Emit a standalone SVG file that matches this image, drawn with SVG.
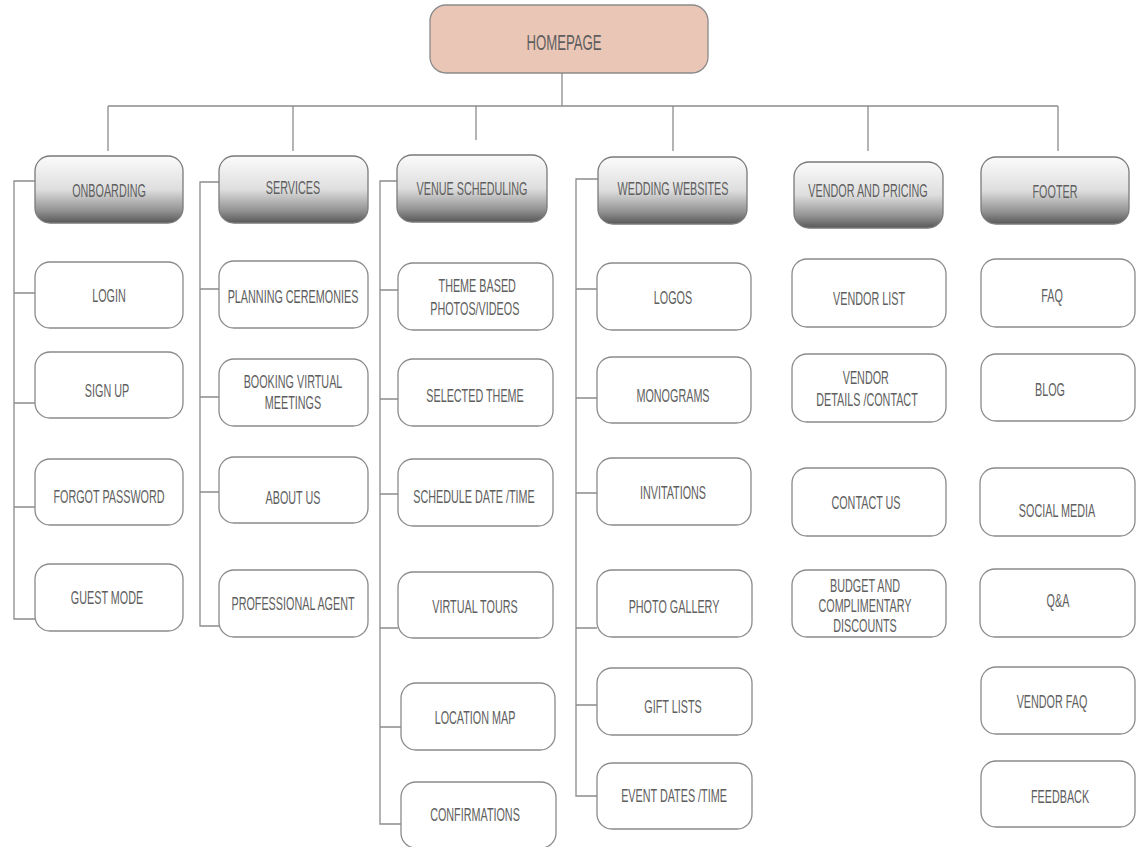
<svg xmlns="http://www.w3.org/2000/svg" width="1139" height="847" viewBox="0 0 1139 847">
<defs>
<linearGradient id="hdr" x1="0" y1="0" x2="0" y2="1">
<stop offset="0" stop-color="#fbfbfb"/>
<stop offset="0.5" stop-color="#dedede"/>
<stop offset="0.82" stop-color="#919191"/>
<stop offset="1" stop-color="#585858"/>
</linearGradient>
<style>
.t{font-family:"Liberation Sans",Arial,sans-serif;font-size:18px;fill:#5e5e5e;text-anchor:middle}
.home{font-size:22px}
.box{fill:#ffffff;stroke:#8a8a8a;stroke-width:1.3}
.hb{fill:url(#hdr);stroke:#7a7a7a;stroke-width:1.3}
.hp{fill:#eac6b7;stroke:#8a8a8a;stroke-width:1.3}
.c{fill:none;stroke:#8c8c8c;stroke-width:1.3}
</style>
</defs>
<rect width="1139" height="847" fill="#ffffff"/>

<g id="connectors">
<path class="c" d="M562 73V106M108 106H1058M108 106V151M293 106V151M476 106V140M673 106V151M868 106V151M1058 106V151"/>
<path class="c" d="M35 181H14V619H35M14 293H35M14 403H35M14 507H35"/>
<path class="c" d="M219 182H200V626H219M200 289H219M200 397H219M200 492H219"/>
<path class="c" d="M397 181H380V824H401M380 290H398M380 399H398M380 494H398M380 628H398M380 727H401"/>
<path class="c" d="M598 179H576V796H597M576 289H597M576 398H597M576 493H597M576 628H597M576 705H597"/>
</g>

<g id="homepage"><rect class="hp" x="430" y="5" width="278" height="68" rx="16"/><text class="t home" transform="translate(564,50) scale(0.6,1)">HOMEPAGE</text></g>

<g id="onboarding"><rect class="hb" x="35" y="156" width="148" height="67" rx="15"/><text class="t" transform="translate(109,197) scale(0.6,1)">ONBOARDING</text></g>
<g id="services"><rect class="hb" x="219" y="156" width="149" height="67" rx="15"/><text class="t" transform="translate(293,194) scale(0.6,1)">SERVICES</text></g>
<g id="venue-scheduling"><rect class="hb" x="397" y="155" width="150" height="67" rx="15"/><text class="t" transform="translate(472,195) scale(0.6,1)">VENUE SCHEDULING</text></g>
<g id="wedding-websites"><rect class="hb" x="598" y="157" width="149" height="67" rx="15"/><text class="t" transform="translate(673,195) scale(0.6,1)">WEDDING WEBSITES</text></g>
<g id="vendor-and-pricing"><rect class="hb" x="794" y="162" width="149" height="66" rx="15"/><text class="t" transform="translate(868,197) scale(0.6,1)">VENDOR AND PRICING</text></g>
<g id="footer"><rect class="hb" x="981" y="157" width="148" height="67" rx="15"/><text class="t" transform="translate(1055,198) scale(0.6,1)">FOOTER</text></g>

<g id="login"><rect class="box" x="35" y="262" width="148" height="66" rx="15"/><text class="t" transform="translate(109,302) scale(0.6,1)">LOGIN</text></g>
<g id="sign-up"><rect class="box" x="35" y="352" width="148" height="66" rx="15"/><text class="t" transform="translate(107,397) scale(0.6,1)">SIGN UP</text></g>
<g id="forgot-password"><rect class="box" x="35" y="459" width="148" height="66" rx="15"/><text class="t" transform="translate(109,503) scale(0.6,1)">FORGOT PASSWORD</text></g>
<g id="guest-mode"><rect class="box" x="35" y="564" width="148" height="67" rx="15"/><text class="t" transform="translate(107,604) scale(0.6,1)">GUEST MODE</text></g>

<g id="planning-ceremonies"><rect class="box" x="219" y="261" width="149" height="67" rx="15"/><text class="t" transform="translate(293,303) scale(0.6,1)">PLANNING CEREMONIES</text></g>
<g id="booking-virtual-meetings"><rect class="box" x="219" y="359" width="149" height="67" rx="15"/><text class="t" transform="translate(293,388) scale(0.6,1)"><tspan x="0" y="0">BOOKING VIRTUAL</tspan><tspan x="0" y="21">MEETINGS</tspan></text></g>
<g id="about-us"><rect class="box" x="219" y="457" width="149" height="66" rx="15"/><text class="t" transform="translate(293,504) scale(0.6,1)">ABOUT US</text></g>
<g id="professional-agent"><rect class="box" x="219" y="570" width="149" height="67" rx="15"/><text class="t" transform="translate(293,610) scale(0.6,1)">PROFESSIONAL AGENT</text></g>

<g id="theme-based"><rect class="box" x="398" y="263" width="155" height="67" rx="15"/><text class="t" transform="translate(476,292) scale(0.6,1)"><tspan x="2" y="0">THEME BASED</tspan><tspan x="-2" y="23">PHOTOS/VIDEOS</tspan></text></g>
<g id="selected-theme"><rect class="box" x="398" y="359" width="155" height="67" rx="15"/><text class="t" transform="translate(475,402) scale(0.6,1)">SELECTED THEME</text></g>
<g id="schedule-date-time"><rect class="box" x="398" y="459" width="155" height="67" rx="15"/><text class="t" transform="translate(474,503) scale(0.6,1)">SCHEDULE DATE /TIME</text></g>
<g id="virtual-tours"><rect class="box" x="398" y="572" width="155" height="66" rx="15"/><text class="t" transform="translate(475,613) scale(0.6,1)">VIRTUAL TOURS</text></g>
<g id="location-map"><rect class="box" x="401" y="683" width="154" height="67" rx="15"/><text class="t" transform="translate(475,724) scale(0.6,1)">LOCATION MAP</text></g>
<g id="confirmations"><rect class="box" x="401" y="782" width="155" height="66" rx="15"/><text class="t" transform="translate(475,821) scale(0.6,1)">CONFIRMATIONS</text></g>

<g id="logos"><rect class="box" x="597" y="263" width="154" height="67" rx="15"/><text class="t" transform="translate(673,304) scale(0.6,1)">LOGOS</text></g>
<g id="monograms"><rect class="box" x="597" y="357" width="154" height="66" rx="15"/><text class="t" transform="translate(673,402) scale(0.6,1)">MONOGRAMS</text></g>
<g id="invitations"><rect class="box" x="597" y="458" width="154" height="67" rx="15"/><text class="t" transform="translate(673,499) scale(0.6,1)">INVITATIONS</text></g>
<g id="photo-gallery"><rect class="box" x="597" y="570" width="155" height="67" rx="15"/><text class="t" transform="translate(674,613) scale(0.6,1)">PHOTO GALLERY</text></g>
<g id="gift-lists"><rect class="box" x="597" y="668" width="155" height="67" rx="15"/><text class="t" transform="translate(673,713) scale(0.6,1)">GIFT LISTS</text></g>
<g id="event-dates-time"><rect class="box" x="597" y="763" width="155" height="66" rx="15"/><text class="t" transform="translate(674,802) scale(0.6,1)">EVENT DATES /TIME</text></g>

<g id="vendor-list"><rect class="box" x="792" y="259" width="154" height="68" rx="15"/><text class="t" transform="translate(869,305) scale(0.6,1)">VENDOR LIST</text></g>
<g id="vendor-details-contact"><rect class="box" x="792" y="354" width="154" height="68" rx="15"/><text class="t" transform="translate(867,384) scale(0.6,1)"><tspan x="-2" y="0">VENDOR</tspan><tspan x="0" y="22">DETAILS /CONTACT</tspan></text></g>
<g id="contact-us"><rect class="box" x="792" y="468" width="154" height="68" rx="15"/><text class="t" transform="translate(866,509) scale(0.6,1)">CONTACT US</text></g>
<g id="budget-discounts"><rect class="box" x="792" y="570" width="154" height="67" rx="15"/><text class="t" transform="translate(865,592) scale(0.6,1)"><tspan x="0" y="0">BUDGET AND</tspan><tspan x="0" y="20">COMPLIMENTARY</tspan><tspan x="0" y="40">DISCOUNTS</tspan></text></g>

<g id="faq"><rect class="box" x="981" y="259" width="154" height="68" rx="15"/><text class="t" transform="translate(1052,302) scale(0.6,1)">FAQ</text></g>
<g id="blog"><rect class="box" x="981" y="354" width="154" height="67" rx="15"/><text class="t" transform="translate(1050,396) scale(0.6,1)">BLOG</text></g>
<g id="social-media"><rect class="box" x="980" y="468" width="155" height="68" rx="15"/><text class="t" transform="translate(1057,517) scale(0.6,1)">SOCIAL MEDIA</text></g>
<g id="q-and-a"><rect class="box" x="980" y="569" width="155" height="68" rx="15"/><text class="t" transform="translate(1058,607) scale(0.6,1)">Q&amp;A</text></g>
<g id="vendor-faq"><rect class="box" x="981" y="667" width="154" height="67" rx="15"/><text class="t" transform="translate(1052,708) scale(0.6,1)">VENDOR FAQ</text></g>
<g id="feedback"><rect class="box" x="981" y="761" width="154" height="66" rx="15"/><text class="t" transform="translate(1060,803) scale(0.6,1)">FEEDBACK</text></g>
</svg>
